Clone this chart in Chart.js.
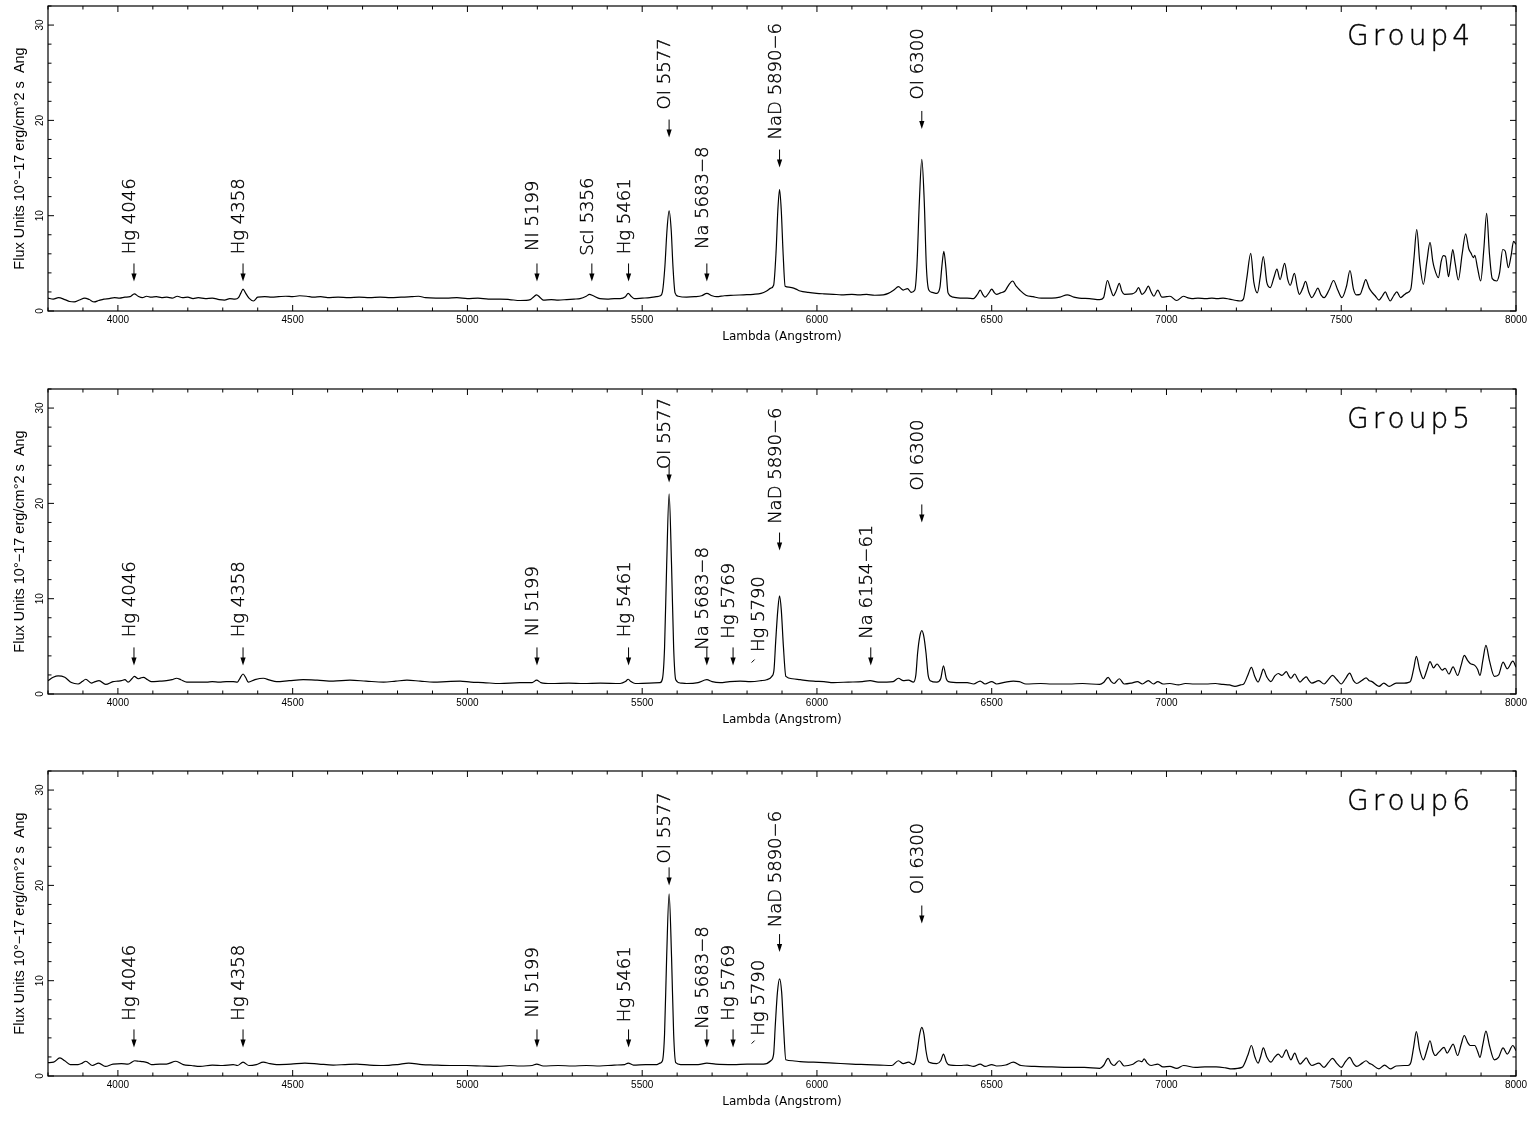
<!DOCTYPE html>
<html>
<head>
<meta charset="utf-8">
<script src="https://cdn.jsdelivr.net/npm/chart.js@4.4.1/dist/chart.umd.min.js"></script>
<style>
  html, body { margin: 0; padding: 0; background: #fff; }
  .panel { position: absolute; left: 0; width: 1537px; height: 356px; }
</style>
</head>
<body>
<div class="panel" style="top:0px"><canvas id="g4"></canvas></div>
<div class="panel" style="top:383px"><canvas id="g5"></canvas></div>
<div class="panel" style="top:765px"><canvas id="g6"></canvas></div>
<script>
// ---- spectra (lambda in Angstrom, flux in 1e-17 erg/cm2/s/A) ----
const g4Lambda = [3800,3815,3830,3848,3862,3875,3890,3905,3918,3932,3945,3960,3975,3990,4005,4020,4035,4047,4058,4070,4082,4095,4110,4125,4140,4155,4170,4185,4200,4215,4230,4250,4270,4290,4305,4320,4335,4345,4352,4358,4365,4375,4388,4400,4420,4440,4460,4480,4500,4520,4540,4560,4580,4600,4630,4660,4690,4720,4750,4780,4810,4840,4860,4880,4910,4940,4970,5000,5030,5060,5093,5120,5151,5180,5190,5198,5207,5217,5240,5260,5284,5305,5322,5340,5349,5360,5379,5400,5420,5437,5452,5460,5468,5478,5500,5522,5540,5552,5558,5565,5571,5577,5583,5588,5594,5603,5627,5650,5670,5685,5700,5713,5735,5761,5790,5818,5840,5856,5868,5876,5883,5888,5893,5898,5903,5909,5920,5928,5940,5952,5975,5999,6020,6047,6070,6100,6120,6142,6165,6190,6204,6220,6233,6247,6259,6270,6280,6286,6293,6300,6307,6313,6320,6330,6343,6352,6357,6363,6369,6375,6390,6410,6430,6448,6460,6467,6475,6481,6492,6500,6508,6514,6525,6538,6548,6560,6570,6580,6598,6618,6642,6672,6695,6716,6735,6750,6780,6809,6820,6831,6840,6848,6856,6865,6872,6880,6902,6912,6920,6930,6940,6948,6956,6964,6975,6987,7000,7010,7029,7049,7060,7073,7090,7113,7130,7145,7162,7180,7200,7211,7220,7230,7241,7250,7260,7268,7277,7287,7297,7308,7316,7325,7338,7347,7354,7366,7374,7380,7390,7398,7407,7416,7425,7433,7442,7451,7465,7478,7490,7502,7515,7525,7535,7543,7554,7562,7570,7580,7587,7597,7608,7618,7626,7633,7640,7650,7659,7670,7680,7688,7699,7708,7716,7725,7735,7745,7754,7762,7766,7778,7786,7792,7798,7807,7813,7819,7826,7835,7846,7856,7865,7871,7878,7882,7890,7899,7908,7916,7924,7932,7945,7953,7962,7969,7978,7986,7993,8000];
const g4Flux = [1.35,1.25,1.4,1.2,1.0,0.95,1.15,1.35,1.2,0.95,1.1,1.25,1.3,1.4,1.35,1.45,1.5,1.8,1.55,1.4,1.55,1.45,1.5,1.4,1.45,1.35,1.55,1.4,1.45,1.3,1.4,1.3,1.35,1.2,1.15,1.3,1.25,1.4,1.9,2.3,1.9,1.35,1.05,1.45,1.5,1.45,1.5,1.55,1.5,1.6,1.55,1.45,1.5,1.4,1.45,1.4,1.45,1.4,1.45,1.4,1.45,1.5,1.55,1.4,1.35,1.35,1.4,1.3,1.35,1.25,1.25,1.2,1.1,1.2,1.5,1.7,1.45,1.15,1.2,1.15,1.2,1.25,1.3,1.55,1.75,1.6,1.3,1.25,1.3,1.3,1.5,1.85,1.55,1.3,1.35,1.4,1.5,1.6,2.0,4.7,8.5,10.5,8.5,4.7,1.9,1.55,1.45,1.5,1.6,1.85,1.6,1.5,1.6,1.65,1.7,1.75,1.85,2.1,2.4,2.7,6.2,10.5,12.75,10.5,6.2,2.6,2.5,2.45,2.3,2.1,1.95,1.85,1.8,1.75,1.7,1.75,1.7,1.75,1.65,1.7,1.85,2.2,2.55,2.2,2.35,1.95,2.2,4.7,11.5,15.9,11.5,4.7,2.2,1.95,1.85,2.5,4.5,6.25,4.5,1.9,1.45,1.35,1.35,1.3,1.8,2.2,1.7,1.45,1.9,2.3,1.9,1.75,1.9,2.1,2.7,3.15,2.6,2.2,1.65,1.5,1.35,1.35,1.45,1.7,1.45,1.35,1.3,1.2,1.4,3.2,2.3,1.6,2.1,2.9,2.1,1.75,1.8,2.0,2.45,1.75,2.1,2.6,2.0,1.55,2.2,1.45,1.5,1.55,1.1,1.55,1.4,1.3,1.35,1.3,1.35,1.3,1.35,1.25,1.1,1.05,1.25,3.5,6.05,3.0,1.9,3.5,5.7,3.0,2.45,3.6,4.4,3.3,5.0,3.3,2.7,3.95,2.5,1.75,2.4,3.1,2.0,1.4,1.9,2.4,1.7,1.4,2.2,3.2,2.2,1.4,2.6,4.25,2.3,1.7,1.75,2.5,3.3,2.4,2.0,1.6,1.15,1.6,2.0,1.5,1.05,1.6,2.0,1.4,1.7,1.9,2.3,5.5,8.55,5.0,2.8,5.2,7.2,5.2,4.55,3.5,5.2,5.8,5.75,3.6,5.0,6.45,5.0,3.25,6.0,8.1,6.5,6.1,5.6,5.85,4.5,3.15,6.5,10.25,6.0,3.4,3.15,4.0,6.45,6.3,4.55,5.8,7.3,7.0];

const g5Lambda = [3800,3815,3829,3848,3867,3886,3898,3908,3924,3935,3946,3965,3986,4000,4010,4020,4029,4040,4047,4058,4066,4073,4085,4096,4120,4139,4155,4168,4180,4197,4225,4254,4270,4290,4310,4330,4342,4350,4358,4366,4373,4392,4416,4435,4454,4490,4530,4570,4616,4664,4710,4760,4795,4827,4865,4903,4940,4979,5010,5045,5093,5150,5185,5198,5210,5240,5290,5332,5380,5437,5452,5460,5468,5480,5520,5551,5558,5564,5570,5577,5584,5590,5596,5610,5627,5660,5685,5700,5723,5750,5780,5810,5840,5856,5871,5877,5882,5888,5893,5898,5904,5911,5930,5952,5990,6020,6047,6090,6130,6152,6175,6200,6218,6233,6247,6262,6276,6283,6288,6294,6300,6306,6312,6318,6324,6343,6354,6362,6370,6376,6409,6430,6448,6467,6481,6500,6514,6540,6562,6579,6598,6640,6672,6721,6760,6809,6820,6833,6842,6850,6865,6879,6900,6917,6931,6948,6963,6975,6990,7010,7034,7054,7080,7113,7140,7162,7180,7196,7212,7222,7233,7243,7253,7262,7270,7277,7287,7299,7310,7320,7330,7343,7350,7356,7367,7375,7382,7392,7400,7408,7416,7436,7451,7463,7475,7488,7500,7512,7524,7535,7544,7560,7571,7580,7588,7608,7622,7637,7657,7680,7691,7699,7707,7715,7724,7735,7745,7754,7764,7774,7789,7797,7808,7820,7833,7843,7852,7862,7869,7882,7890,7897,7905,7914,7924,7938,7950,7963,7975,7991,8000];
const g5Flux = [1.4,1.75,1.9,1.75,1.2,1.05,1.3,1.55,1.15,1.3,1.4,1.0,1.3,1.35,1.4,1.5,1.25,1.6,1.85,1.6,1.7,1.75,1.5,1.3,1.35,1.4,1.5,1.65,1.5,1.25,1.25,1.25,1.3,1.25,1.3,1.3,1.25,1.7,2.1,1.7,1.25,1.5,1.65,1.45,1.3,1.4,1.5,1.45,1.35,1.45,1.35,1.25,1.35,1.45,1.35,1.25,1.3,1.35,1.25,1.2,1.1,1.2,1.2,1.45,1.2,1.1,1.15,1.1,1.15,1.1,1.3,1.55,1.3,1.1,1.15,1.2,1.6,4.85,13.5,21.0,13.5,4.85,1.5,1.15,1.1,1.2,1.5,1.3,1.2,1.3,1.35,1.3,1.4,1.5,1.85,2.5,5.55,8.8,10.3,8.8,5.0,1.85,1.6,1.5,1.35,1.3,1.2,1.25,1.3,1.4,1.25,1.25,1.3,1.65,1.4,1.45,1.25,2.0,4.3,6.0,6.65,6.0,4.3,2.0,1.4,1.25,1.6,2.95,1.6,1.3,1.2,1.2,1.05,1.35,1.05,1.3,1.05,1.25,1.35,1.3,1.05,1.1,1.05,1.05,1.1,1.0,1.2,1.75,1.3,1.1,1.6,1.05,1.15,1.3,1.05,1.4,1.05,1.3,1.05,1.1,0.95,1.1,1.05,1.05,1.1,1.0,0.95,0.8,0.95,1.1,2.0,2.8,1.8,1.25,1.9,2.6,1.8,1.3,1.9,2.15,1.95,2.35,1.9,1.65,2.1,1.6,1.25,1.6,1.8,1.4,1.15,1.4,1.05,1.5,1.95,1.5,1.05,1.6,2.2,1.4,1.1,1.45,1.7,1.4,1.3,0.8,1.15,0.8,1.15,1.15,1.2,1.4,2.6,3.95,2.6,1.6,2.5,3.4,2.75,3.15,2.5,2.7,2.1,2.85,1.95,3.0,4.05,3.5,3.2,3.0,2.6,1.95,3.5,5.1,3.5,1.85,2.0,3.35,2.65,3.45,2.8];

const g6Lambda = [3800,3816,3834,3848,3864,3886,3898,3908,3927,3945,3964,3986,4010,4029,4048,4060,4072,4084,4096,4120,4139,4166,4187,4210,4235,4270,4300,4330,4342,4358,4375,4396,4416,4435,4454,4495,4535,4575,4616,4650,4683,4720,4760,4800,4832,4870,4903,4950,4998,5040,5084,5120,5150,5185,5198,5217,5260,5300,5340,5379,5420,5450,5460,5475,5510,5542,5551,5558,5564,5570,5577,5584,5590,5596,5610,5627,5660,5685,5710,5761,5800,5847,5868,5876,5881,5887,5893,5899,5904,5911,5930,5952,5990,6047,6100,6142,6180,6214,6233,6247,6262,6276,6282,6287,6294,6300,6306,6312,6318,6324,6343,6354,6362,6370,6376,6409,6430,6448,6467,6481,6500,6514,6540,6562,6584,6623,6672,6721,6765,6809,6820,6833,6842,6850,6865,6879,6902,6921,6930,6936,6945,6956,6975,6990,7010,7029,7049,7083,7110,7142,7170,7186,7216,7233,7243,7253,7262,7270,7277,7287,7299,7310,7320,7330,7343,7350,7356,7367,7375,7382,7392,7400,7408,7416,7436,7451,7463,7475,7488,7500,7512,7524,7535,7544,7560,7571,7580,7588,7608,7624,7640,7657,7680,7691,7699,7707,7715,7724,7735,7745,7754,7762,7769,7779,7794,7803,7812,7820,7833,7843,7852,7862,7869,7882,7890,7897,7905,7914,7924,7938,7950,7963,7975,7991,8000];
const g6Flux = [1.4,1.45,1.9,1.6,1.2,1.2,1.35,1.55,1.1,1.35,1.0,1.25,1.3,1.25,1.6,1.55,1.5,1.4,1.2,1.25,1.25,1.55,1.2,1.1,1.0,1.15,1.1,1.2,1.1,1.45,1.1,1.2,1.45,1.3,1.2,1.25,1.35,1.25,1.15,1.2,1.25,1.15,1.1,1.2,1.35,1.2,1.15,1.1,1.1,1.05,1.0,1.1,1.05,1.1,1.25,1.05,1.1,1.05,1.1,1.05,1.15,1.2,1.35,1.15,1.2,1.2,1.35,1.6,4.4,12.5,19.1,12.5,4.4,1.4,1.2,1.2,1.2,1.35,1.25,1.2,1.25,1.25,1.6,2.3,5.45,8.8,10.2,8.8,5.45,1.7,1.6,1.5,1.45,1.35,1.25,1.2,1.15,1.1,1.6,1.3,1.45,1.2,1.6,2.65,4.4,5.1,4.4,2.65,1.6,1.4,1.3,1.6,2.3,1.5,1.2,1.1,1.15,1.0,1.25,1.0,1.2,1.05,1.15,1.45,1.1,1.0,0.95,0.9,0.9,0.8,1.1,1.85,1.3,1.1,1.6,1.05,1.2,1.6,1.5,1.8,1.35,1.1,1.25,0.95,1.0,0.8,1.1,0.9,0.95,0.95,0.85,0.75,0.9,2.2,3.2,2.0,1.35,2.1,2.95,2.0,1.45,2.0,2.3,1.95,2.75,2.1,1.7,2.4,1.7,1.25,1.6,1.9,1.4,1.1,1.35,0.9,1.4,1.85,1.3,0.9,1.5,1.95,1.3,1.0,1.35,1.6,1.35,1.2,0.75,1.15,0.75,1.05,1.1,1.1,1.4,3.0,4.65,2.8,1.7,2.7,3.7,2.6,2.15,2.5,3.0,2.4,2.9,3.35,2.15,3.3,4.25,3.5,3.2,3.2,2.6,1.95,3.3,4.7,3.2,1.7,1.95,2.95,2.3,3.2,2.65];

// ---- line identifications ----
const g4Names = ['Hg 4046','Hg 4358','NI 5199','ScI 5356','Hg 5461','OI 5577','Na 5683\u22128','NaD 5890\u22126','OI 6300'];
const g4ArrowLambda = [4046,4358,5199,5356,5461,5577,5685,5893,6300];
const g4TextLambda = [4046,4358,5199,5356,5461,5577,5685,5893,6300];
const g4ArrowTip = [3.1,3.1,3.1,3.1,3.1,18.2,3.1,15.05,19.1];
const g4TextStart = [5.95,5.95,6.3,5.8,5.95,21.15,6.5,18.0,22.2];

const g5Names = ['Hg 4046','Hg 4358','NI 5199','Hg 5461','OI 5577','Na 5683\u22128','Hg 5769','Hg 5790','NaD 5890\u22126','Na 6154\u221261','OI 6300'];
const g5ArrowLambda = [4046,4358,5199,5461,5577,5685,5760,5813,5893,6154,6300];
const g5TextLambda = [4046,4358,5199,5461,5577,5685,5760,5845,5893,6154,6300];
const g5ArrowTip = [3.0,3.0,3.0,3.0,22.2,3.0,3.0,3.3,15.05,3.0,18.0];
const g5TextStart = [5.95,5.95,6.05,5.95,23.6,4.65,5.8,4.4,17.85,5.8,21.35];

const g6Names = ['Hg 4046','Hg 4358','NI 5199','Hg 5461','OI 5577','Na 5683\u22128','Hg 5769','Hg 5790','NaD 5890\u22126','OI 6300'];
const g6ArrowLambda = [4046,4358,5199,5461,5577,5685,5760,5813,5893,6300];
const g6TextLambda = [4046,4358,5199,5461,5577,5685,5760,5845,5893,6300];
const g6ArrowTip = [3.0,3.0,3.0,3.0,20.0,3.0,3.0,3.4,13.0,16.0];
const g6TextStart = [5.8,5.8,6.15,5.65,22.3,4.95,5.8,4.23,15.6,19.1];

// axis ranges and tick labels
const xTicks = { min: 3800, max: 8000, major: 500, minor: 100 };
const yTicks = { min: 0, max: 32, major: 10, minor: 2 };
const xTickLabels = [4000, 4500, 5000, 5500, 6000, 6500, 7000, 7500, 8000];
const yTickLabels = [0, 10, 20, 30];

const yTitle = 'Flux Units 10\u00b0\u221217 erg/cm\u00b02 s  Ang';
const xTitle = 'Lambda (Angstrom)';

const thinFont = '"DejaVu Sans"';
const tickFont = '"Liberation Sans", Arial, sans-serif';

// draws the box, inward ticks, y labels, group name and line marks
function spectrumDecor(group, names, arrowLambda, textLambda, tips, starts) {
  return {
    id: 'decor_' + group,
    afterDraw(chart) {
      const ctx = chart.ctx;
      const ca = chart.chartArea;
      const xs = chart.scales.x, ys = chart.scales.y;
      ctx.save();
      ctx.strokeStyle = '#000';
      ctx.fillStyle = '#000';
      ctx.lineWidth = 1.2;
      ctx.strokeRect(ca.left, ca.top, ca.right - ca.left, ca.bottom - ca.top);

      ctx.lineWidth = 1;
      ctx.beginPath();
      for (let v = xTicks.min; v <= xTicks.max; v += xTicks.minor) {
        const px = xs.getPixelForValue(v);
        const len = v % xTicks.major === 0 ? 6 : 3.5;
        ctx.moveTo(px, ca.bottom); ctx.lineTo(px, ca.bottom - len);
        ctx.moveTo(px, ca.top); ctx.lineTo(px, ca.top + len);
      }
      for (let v = yTicks.min; v <= yTicks.max; v += yTicks.minor) {
        const py = ys.getPixelForValue(v);
        const len = v % yTicks.major === 0 ? 6 : 3.5;
        ctx.moveTo(ca.left, py); ctx.lineTo(ca.left + len, py);
        ctx.moveTo(ca.right, py); ctx.lineTo(ca.right - len, py);
      }
      ctx.stroke();

      // rotated y tick labels
      ctx.font = '10px ' + tickFont;
      ctx.textAlign = 'center';
      ctx.textBaseline = 'middle';
      ys.ticks.forEach(t => {
        const py = ys.getPixelForValue(t.value);
        ctx.save();
        ctx.translate(ca.left - 8, py);
        ctx.rotate(-Math.PI / 2);
        ctx.fillText(String(t.value), 0, 0);
        ctx.restore();
      });

      // group name, top right
      ctx.font = '200 28px ' + thinFont;
      ctx.textAlign = 'right';
      ctx.textBaseline = 'alphabetic';
      ctx.letterSpacing = '4px';
      ctx.lineWidth = 0.4;
      ctx.fillText(group, ca.right - 42, ca.top + 39);
      ctx.strokeText(group, ca.right - 42, ca.top + 39);
      ctx.letterSpacing = '0px';

      // arrows and rotated line names
      ctx.font = '200 18px ' + thinFont;
      ctx.textAlign = 'left';
      names.forEach((name, i) => {
        const ax = xs.getPixelForValue(arrowLambda[i]);
        const tipY = ys.getPixelForValue(tips[i]);
        ctx.lineWidth = 1;
        if (textLambda[i] !== arrowLambda[i]) {
          // tiny offset marker
          ctx.beginPath();
          ctx.moveTo(ax + 3, tipY - 3);
          ctx.lineTo(ax, tipY);
          ctx.stroke();
        } else {
          ctx.beginPath();
          ctx.moveTo(ax, tipY - 18);
          ctx.lineTo(ax, tipY - 6);
          ctx.stroke();
          ctx.beginPath();
          ctx.moveTo(ax - 2.6, tipY - 8);
          ctx.lineTo(ax + 2.6, tipY - 8);
          ctx.lineTo(ax, tipY);
          ctx.closePath();
          ctx.fill();
        }
        const tx = xs.getPixelForValue(textLambda[i]) + 1;
        const ty = ys.getPixelForValue(starts[i]);
        ctx.save();
        ctx.translate(tx, ty);
        ctx.rotate(-Math.PI / 2);
        ctx.lineWidth = 0.4;
        ctx.fillText(name, 0, 0);
        ctx.strokeText(name, 0, 0);
        ctx.restore();
      });
      ctx.restore();
    }
  };
}

function makePanel(id, group, lambda, flux, names, arrowLambda, textLambda, tips, starts) {
  const points = lambda.map((l, i) => ({ x: l, y: flux[i] }));
  return new Chart(document.getElementById(id), {
    type: 'line',
    data: {
      datasets: [{
        data: points,
        borderColor: '#000',
        borderWidth: 1.2,
        pointRadius: 0,
        fill: false,
        cubicInterpolationMode: 'monotone'
      }]
    },
    options: {
      responsive: true,
      maintainAspectRatio: false,
      animation: false,
      events: [],
      layout: { padding: { top: 6, right: 21, left: 0, bottom: 0 } },
      plugins: { legend: { display: false }, tooltip: { enabled: false } },
      scales: {
        x: {
          type: 'linear',
          min: xTicks.min,
          max: xTicks.max,
          grid: { display: false, drawTicks: false },
          border: { display: false },
          afterBuildTicks(scale) { scale.ticks = xTickLabels.map(v => ({ value: v })); },
          ticks: {
            maxRotation: 0,
            autoSkip: false,
            padding: 3,
            color: '#000',
            callback: v => String(v),
            font: { family: tickFont, size: 10 }
          },
          title: {
            display: true,
            text: xTitle,
            color: '#000',
            padding: { top: 0, bottom: 12 },
            font: { family: thinFont, size: 12 }
          },
          afterFit(scale) { scale.height = 45; }
        },
        y: {
          type: 'linear',
          min: yTicks.min,
          max: yTicks.max,
          grid: { display: false, drawTicks: false },
          border: { display: false },
          afterBuildTicks(scale) { scale.ticks = yTickLabels.map(v => ({ value: v })); },
          ticks: { display: false },
          title: {
            display: true,
            text: yTitle,
            color: '#000',
            padding: { top: 11, bottom: 0 },
            font: { family: tickFont, size: 14.5 }
          },
          afterFit(scale) { scale.width = 48; }
        }
      }
    },
    plugins: [spectrumDecor(group, names, arrowLambda, textLambda, tips, starts)]
  });
}

makePanel('g4', 'Group4', g4Lambda, g4Flux, g4Names, g4ArrowLambda, g4TextLambda, g4ArrowTip, g4TextStart);
makePanel('g5', 'Group5', g5Lambda, g5Flux, g5Names, g5ArrowLambda, g5TextLambda, g5ArrowTip, g5TextStart);
makePanel('g6', 'Group6', g6Lambda, g6Flux, g6Names, g6ArrowLambda, g6TextLambda, g6ArrowTip, g6TextStart);
</script>
</body>
</html>
